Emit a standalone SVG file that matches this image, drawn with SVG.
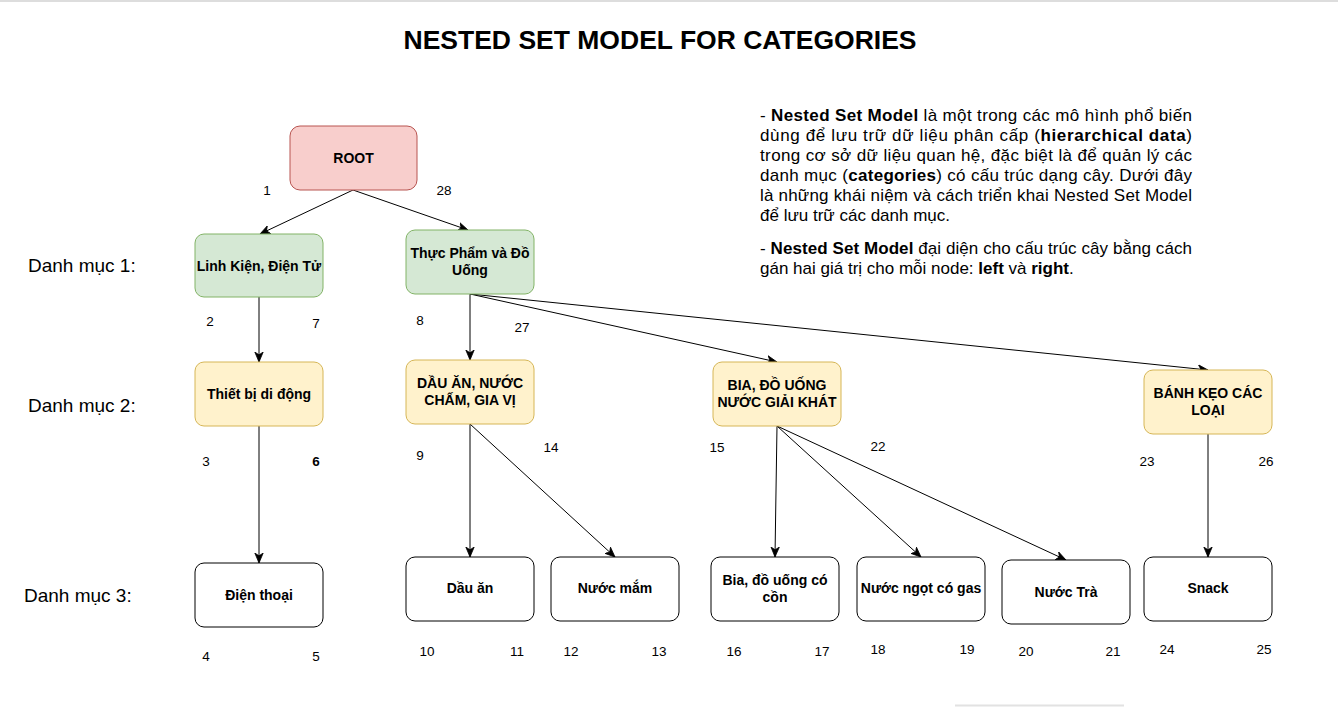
<svg xmlns="http://www.w3.org/2000/svg" width="1338" height="707" viewBox="0 0 1338 707">
<style>
text{font-family:"Liberation Sans",Arial,Helvetica,sans-serif;fill:#000}
.nl{font-size:14px;font-weight:bold;text-anchor:middle}
.num{font-size:13.5px}
.cat{font-size:19px}
.desc{font-size:17px}
.b{font-weight:bold}
.red{fill:#f8cecc;stroke:#b85450;stroke-width:1}
.green{fill:#d5e8d4;stroke:#82b366;stroke-width:1}
.yellow{fill:#fff2cc;stroke:#d6b656;stroke-width:1}
.white{fill:#fff;stroke:#000;stroke-width:1}
.edge{stroke:#000;stroke-width:1;fill:none;marker-end:url(#arr)}
</style>
<defs>
<marker id="arr" markerUnits="userSpaceOnUse" markerWidth="11" markerHeight="10" refX="10" refY="5" orient="auto" viewBox="0 0 11 10">
<path d="M0,0.8 L10,5 L0,9.2 L2.8,5 Z" fill="#000" stroke="#000" stroke-width="0.8"/>
</marker>
</defs>
<rect width="1338" height="707" fill="#fff"/>
<line x1="0" y1="1" x2="1338" y2="1" stroke="#dddddd" stroke-width="2"/>
<line x1="955" y1="705.5" x2="1124" y2="705.5" stroke="#e2e2e2" stroke-width="2"/>

<text x="660" y="49" text-anchor="middle" style="font-size:26.5px;font-weight:bold" textLength="513" lengthAdjust="spacingAndGlyphs">NESTED SET MODEL FOR CATEGORIES</text>

<g id="description" class="desc">
<text x="760" y="121" textLength="432" lengthAdjust="spacing">- <tspan class="b">Nested Set Model</tspan> là một trong các mô hình phổ biến</text>
<text x="760" y="141" textLength="432" lengthAdjust="spacing">dùng để lưu trữ dữ liệu phân cấp (<tspan class="b">hierarchical data</tspan>)</text>
<text x="760" y="161" textLength="432" lengthAdjust="spacing">trong cơ sở dữ liệu quan hệ, đặc biệt là để quản lý các</text>
<text x="760" y="181" textLength="432" lengthAdjust="spacing">danh mục (<tspan class="b">categories</tspan>) có cấu trúc dạng cây. Dưới đây</text>
<text x="760" y="201" textLength="432" lengthAdjust="spacing">là những khái niệm và cách triển khai Nested Set Model</text>
<text x="760" y="221">để lưu trữ các danh mục.</text>
<text x="760" y="254" textLength="432" lengthAdjust="spacing">- <tspan class="b">Nested Set Model</tspan> đại diện cho cấu trúc cây bằng cách</text>
<text x="760" y="274">gán hai giá trị cho mỗi node: <tspan class="b">left</tspan> và <tspan class="b">right</tspan>.</text>
</g>

<g id="level-labels" class="cat">
<text x="28" y="272">Danh mục 1:</text>
<text x="28" y="412">Danh mục 2:</text>
<text x="24" y="602">Danh mục 3:</text>
</g>

<g id="connectors">
<line class="edge" x1="353" y1="190" x2="260" y2="234"/>
<line class="edge" x1="353" y1="190" x2="468" y2="230"/>
<line class="edge" x1="259" y1="297" x2="259" y2="362"/>
<line class="edge" x1="470" y1="294" x2="470" y2="360"/>
<line class="edge" x1="470" y1="294" x2="777" y2="362"/>
<line class="edge" x1="470" y1="294" x2="1208" y2="370"/>
<line class="edge" x1="259" y1="426" x2="259" y2="563"/>
<line class="edge" x1="470" y1="424" x2="470" y2="557"/>
<line class="edge" x1="470" y1="424" x2="615" y2="557"/>
<line class="edge" x1="777" y1="426" x2="775" y2="557"/>
<line class="edge" x1="777" y1="426" x2="921" y2="557"/>
<line class="edge" x1="777" y1="426" x2="1066" y2="560"/>
<line class="edge" x1="1208" y1="434" x2="1208" y2="557"/>
</g>

<g id="root">
<rect class="red" x="290" y="126" width="127" height="64" rx="10"/>
<text class="nl" x="353.5" y="163">ROOT</text>
</g>
<g id="linh-kien">
<rect class="green" x="195" y="234" width="128" height="63" rx="9"/>
<text class="nl" x="259" y="271">Linh Kiện, Điện Tử</text>
</g>
<g id="thuc-pham">
<rect class="green" x="406" y="230" width="128" height="64" rx="9"/>
<text class="nl" x="470" y="258">Thực Phẩm và Đồ</text>
<text class="nl" x="470" y="275">Uống</text>
</g>
<g id="thiet-bi">
<rect class="yellow" x="195" y="362" width="128" height="64" rx="9"/>
<text class="nl" x="259" y="399">Thiết bị di động</text>
</g>
<g id="dau-an-nuoc-cham">
<rect class="yellow" x="406" y="360" width="128" height="64" rx="9"/>
<text class="nl" x="470" y="388">DẦU ĂN, NƯỚC</text>
<text class="nl" x="470" y="405">CHẤM, GIA VỊ</text>
</g>
<g id="bia-do-uong">
<rect class="yellow" x="713" y="362" width="128" height="64" rx="9"/>
<text class="nl" x="777" y="390">BIA, ĐỒ UỐNG</text>
<text class="nl" x="777" y="407">NƯỚC GIẢI KHÁT</text>
</g>
<g id="banh-keo">
<rect class="yellow" x="1144" y="370" width="128" height="64" rx="9"/>
<text class="nl" x="1208" y="398">BÁNH KẸO CÁC</text>
<text class="nl" x="1208" y="415">LOẠI</text>
</g>
<g id="dien-thoai">
<rect class="white" x="195" y="563" width="128" height="64" rx="9"/>
<text class="nl" x="259" y="600">Điện thoại</text>
</g>
<g id="dau-an">
<rect class="white" x="406" y="557" width="128" height="64" rx="9"/>
<text class="nl" x="470" y="593">Dầu ăn</text>
</g>
<g id="nuoc-mam">
<rect class="white" x="551" y="557" width="128" height="64" rx="9"/>
<text class="nl" x="615" y="593">Nước mắm</text>
</g>
<g id="bia-co-con">
<rect class="white" x="711" y="557" width="128" height="64" rx="9"/>
<text class="nl" x="775" y="585">Bia, đồ uống có</text>
<text class="nl" x="775" y="602">cồn</text>
</g>
<g id="nuoc-ngot">
<rect class="white" x="857" y="557" width="128" height="64" rx="9"/>
<text class="nl" x="921" y="593">Nước ngọt có gas</text>
</g>
<g id="nuoc-tra">
<rect class="white" x="1002" y="560" width="128" height="64" rx="9"/>
<text class="nl" x="1066" y="597">Nước Trà</text>
</g>
<g id="snack">
<rect class="white" x="1144" y="557" width="128" height="64" rx="9"/>
<text class="nl" x="1208" y="593">Snack</text>
</g>

<g id="numbers" class="num" text-anchor="middle">
<text x="267" y="195">1</text>
<text x="444" y="195">28</text>
<text x="210" y="326">2</text>
<text x="316" y="328">7</text>
<text x="420" y="325">8</text>
<text x="522" y="332">27</text>
<text x="206" y="466">3</text>
<text x="316" y="466" font-weight="bold">6</text>
<text x="420" y="460">9</text>
<text x="551" y="452">14</text>
<text x="717" y="452">15</text>
<text x="878" y="451">22</text>
<text x="1147" y="466">23</text>
<text x="1266" y="466">26</text>
<text x="206" y="661">4</text>
<text x="316" y="661">5</text>
<text x="427" y="656">10</text>
<text x="517" y="656">11</text>
<text x="571" y="656">12</text>
<text x="659" y="656">13</text>
<text x="734" y="656">16</text>
<text x="822" y="656">17</text>
<text x="878" y="654">18</text>
<text x="967" y="654">19</text>
<text x="1026" y="656">20</text>
<text x="1113" y="656">21</text>
<text x="1167" y="654">24</text>
<text x="1264" y="654">25</text>
</g>
</svg>
